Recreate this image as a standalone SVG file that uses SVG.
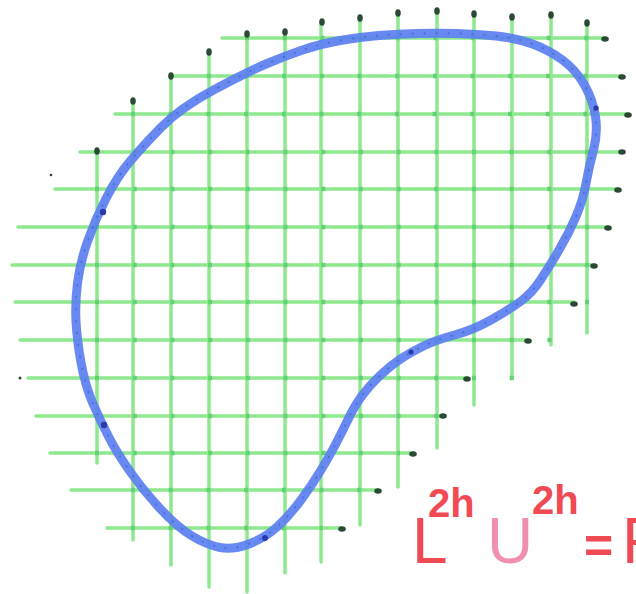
<svg xmlns="http://www.w3.org/2000/svg" width="636" height="594" viewBox="0 0 636 594">
<style>
.g{stroke:#8ee88e;stroke-width:3.5;stroke-linecap:round;fill:none}
.x{stroke:#62d274;stroke-width:4.5;stroke-dasharray:4 33.7;fill:none}
.d{fill:#2b4a35}
.t{font-family:"Liberation Sans",Arial,sans-serif;fill:#f04a55}
</style>
<rect width="636" height="594" fill="#ffffff"/>
<g id="grid">
<g id="horizontal">
<line class="g" x1="222" y1="38" x2="605" y2="38"/>
<line class="g" x1="170" y1="76" x2="622" y2="76"/>
<line class="g" x1="115" y1="114" x2="628" y2="114"/>
<line class="g" x1="80" y1="152" x2="622" y2="152"/>
<line class="g" x1="55" y1="189" x2="618" y2="189"/>
<line class="g" x1="18" y1="227" x2="608" y2="227"/>
<line class="g" x1="12" y1="265" x2="594" y2="265"/>
<line class="g" x1="15" y1="302" x2="574" y2="302"/>
<line class="g" x1="20" y1="340" x2="528" y2="340"/>
<line class="g" x1="28" y1="378" x2="467" y2="378"/>
<line class="g" x1="36" y1="416" x2="443" y2="416"/>
<line class="g" x1="50" y1="453" x2="413" y2="453"/>
<line class="g" x1="71" y1="490" x2="378" y2="490"/>
<line class="g" x1="107" y1="528" x2="342" y2="528"/>
</g>
<g id="vertical">
<line class="g" x1="97" y1="151" x2="97" y2="463"/>
<line class="g" x1="133" y1="101" x2="133" y2="540"/>
<line class="g" x1="171" y1="76" x2="171" y2="565"/>
<line class="g" x1="209" y1="52" x2="209" y2="587"/>
<line class="g" x1="247" y1="34" x2="247" y2="592"/>
<line class="g" x1="285" y1="32" x2="285" y2="573"/>
<line class="g" x1="321" y1="22" x2="321" y2="562"/>
<line class="g" x1="360" y1="18" x2="360" y2="525"/>
<line class="g" x1="398" y1="13" x2="398" y2="487"/>
<line class="g" x1="437" y1="11" x2="437" y2="448"/>
<line class="g" x1="474" y1="14" x2="474" y2="405"/>
<line class="g" x1="512" y1="17" x2="512" y2="378"/>
<line class="g" x1="551" y1="15" x2="551" y2="345"/>
<line class="g" x1="587" y1="23" x2="587" y2="333"/>
</g>
<g id="intersections">
<line class="x" x1="245" y1="38" x2="589" y2="38"/>
<line class="x" x1="169" y1="76" x2="589" y2="76"/>
<line class="x" x1="131" y1="114" x2="589" y2="114"/>
<line class="x" x1="95" y1="152" x2="589" y2="152"/>
<line class="x" x1="95" y1="189" x2="589" y2="189"/>
<line class="x" x1="95" y1="227" x2="589" y2="227"/>
<line class="x" x1="95" y1="265" x2="589" y2="265"/>
<line class="x" x1="95" y1="302" x2="589" y2="302"/>
<line class="x" x1="95" y1="340" x2="553" y2="340"/>
<line class="x" x1="95" y1="378" x2="514" y2="378"/>
<line class="x" x1="95" y1="416" x2="439" y2="416"/>
<line class="x" x1="95" y1="453" x2="400" y2="453"/>
<line class="x" x1="131" y1="490" x2="362" y2="490"/>
<line class="x" x1="131" y1="528" x2="323" y2="528"/>
</g>
<g id="end-dots">
<ellipse class="d" cx="97" cy="151" rx="2.8" ry="3.8"/>
<ellipse class="d" cx="133" cy="101" rx="2.8" ry="3.8"/>
<ellipse class="d" cx="171" cy="76" rx="2.8" ry="3.8"/>
<ellipse class="d" cx="209" cy="52" rx="2.8" ry="3.8"/>
<ellipse class="d" cx="247" cy="34" rx="2.8" ry="3.8"/>
<ellipse class="d" cx="285" cy="32" rx="2.8" ry="3.8"/>
<ellipse class="d" cx="322" cy="22" rx="2.8" ry="3.8"/>
<ellipse class="d" cx="360" cy="18" rx="2.8" ry="3.8"/>
<ellipse class="d" cx="398" cy="13" rx="2.8" ry="3.8"/>
<ellipse class="d" cx="437" cy="11" rx="2.8" ry="3.8"/>
<ellipse class="d" cx="474" cy="14" rx="2.8" ry="3.8"/>
<ellipse class="d" cx="512" cy="17" rx="2.8" ry="3.8"/>
<ellipse class="d" cx="551" cy="15" rx="2.8" ry="3.8"/>
<ellipse class="d" cx="587" cy="23" rx="2.8" ry="3.8"/>
<ellipse class="d" cx="605" cy="39" rx="3.8" ry="2.8"/>
<ellipse class="d" cx="622" cy="77" rx="3.8" ry="2.8"/>
<ellipse class="d" cx="628" cy="115" rx="3.8" ry="2.8"/>
<ellipse class="d" cx="622" cy="152" rx="3.8" ry="2.8"/>
<ellipse class="d" cx="618" cy="190" rx="3.8" ry="2.8"/>
<ellipse class="d" cx="608" cy="228" rx="3.8" ry="2.8"/>
<ellipse class="d" cx="594" cy="266" rx="3.8" ry="2.8"/>
<ellipse class="d" cx="574" cy="304" rx="3.8" ry="2.8"/>
<ellipse class="d" cx="528" cy="341" rx="3.8" ry="2.8"/>
<ellipse class="d" cx="467" cy="379" rx="3.8" ry="2.8"/>
<ellipse class="d" cx="443" cy="416" rx="3.8" ry="2.8"/>
<ellipse class="d" cx="413" cy="454" rx="3.8" ry="2.8"/>
<ellipse class="d" cx="378" cy="491" rx="3.8" ry="2.8"/>
<ellipse class="d" cx="342" cy="529" rx="3.8" ry="2.8"/>
<circle class="d" cx="20" cy="378" r="1.5"/>
<circle class="d" cx="51" cy="175" r="1.3"/>
</g>
</g>
<g id="boundary">
<path d="M 340,40.5 Q 360,37 379,35.5 Q 398,34 417.5,33.5 Q 437,33 456.5,33.5 Q 476,34 496,36 Q 516,38 532.5,44 Q 549,50 562.5,60 Q 576,70 584.5,85 Q 593,100 595.5,116.5 Q 598,133 593.5,150 Q 589,167 586,183.5 Q 583,200 576,216.5 Q 569,233 559,250 Q 549,267 540.5,280 Q 532,293 520.5,301.5 Q 509,310 491,320 Q 473,330 454.5,335 Q 436,340 423.5,346 Q 411,352 400.5,359 Q 390,366 380,375.5 Q 370,385 362.5,395 Q 355,405 348.5,418.5 Q 342,432 336,443.5 Q 330,455 321,470 Q 312,485 301,500 Q 290,515 277.5,526.5 Q 265,538 249,544 Q 233,550 220,547.5 Q 207,545 192,536 Q 177,527 160,508.5 Q 143,490 130,471.5 Q 117,453 108.5,436.5 Q 100,420 92.5,402.5 Q 85,385 81,362.5 Q 77,340 76,321.5 Q 75,303 77.5,283 Q 80,263 87.5,241.5 Q 95,220 106,198.5 Q 117,177 129.5,162 Q 142,147 161,127.5 Q 180,108 213.5,90 Q 247,72 266,64 Q 285,56 302.5,50 Q 320,44 340,40.5 Z" fill="none" stroke="#5b7ff0" stroke-width="9" stroke-linejoin="round" opacity="0.92"/>
<path d="M 340,40.5 Q 360,37 379,35.5 Q 398,34 417.5,33.5 Q 437,33 456.5,33.5 Q 476,34 496,36 Q 516,38 532.5,44 Q 549,50 562.5,60 Q 576,70 584.5,85 Q 593,100 595.5,116.5 Q 598,133 593.5,150 Q 589,167 586,183.5 Q 583,200 576,216.5 Q 569,233 559,250 Q 549,267 540.5,280 Q 532,293 520.5,301.5 Q 509,310 491,320 Q 473,330 454.5,335 Q 436,340 423.5,346 Q 411,352 400.5,359 Q 390,366 380,375.5 Q 370,385 362.5,395 Q 355,405 348.5,418.5 Q 342,432 336,443.5 Q 330,455 321,470 Q 312,485 301,500 Q 290,515 277.5,526.5 Q 265,538 249,544 Q 233,550 220,547.5 Q 207,545 192,536 Q 177,527 160,508.5 Q 143,490 130,471.5 Q 117,453 108.5,436.5 Q 100,420 92.5,402.5 Q 85,385 81,362.5 Q 77,340 76,321.5 Q 75,303 77.5,283 Q 80,263 87.5,241.5 Q 95,220 106,198.5 Q 117,177 129.5,162 Q 142,147 161,127.5 Q 180,108 213.5,90 Q 247,72 266,64 Q 285,56 302.5,50 Q 320,44 340,40.5 Z" fill="none" stroke="#2f46b8" stroke-width="1.6" stroke-dasharray="2 10" opacity="0.5"/>
<circle cx="103" cy="212" r="3.2" fill="#2a3aa8"/>
<circle cx="104" cy="425" r="3.2" fill="#2a3aa8"/>
<circle cx="265" cy="538" r="3" fill="#2a3aa8"/>
<circle cx="411" cy="352" r="2.6" fill="#2a3aa8"/>
<circle cx="596" cy="108" r="2.6" fill="#2a3aa8"/>
</g>
<g id="equation">
<text class="t" font-size="64"><tspan x="412" y="563">L</tspan><tspan x="428" y="517" font-size="40" font-weight="bold">2h</tspan><tspan x="487" y="563" style="fill:#f08fae">U</tspan><tspan x="532" y="514" font-size="40" font-weight="bold">2h</tspan><tspan x="584" y="563" font-size="50" font-weight="bold">=</tspan><tspan x="622" y="563">F</tspan></text>
</g>
</svg>
